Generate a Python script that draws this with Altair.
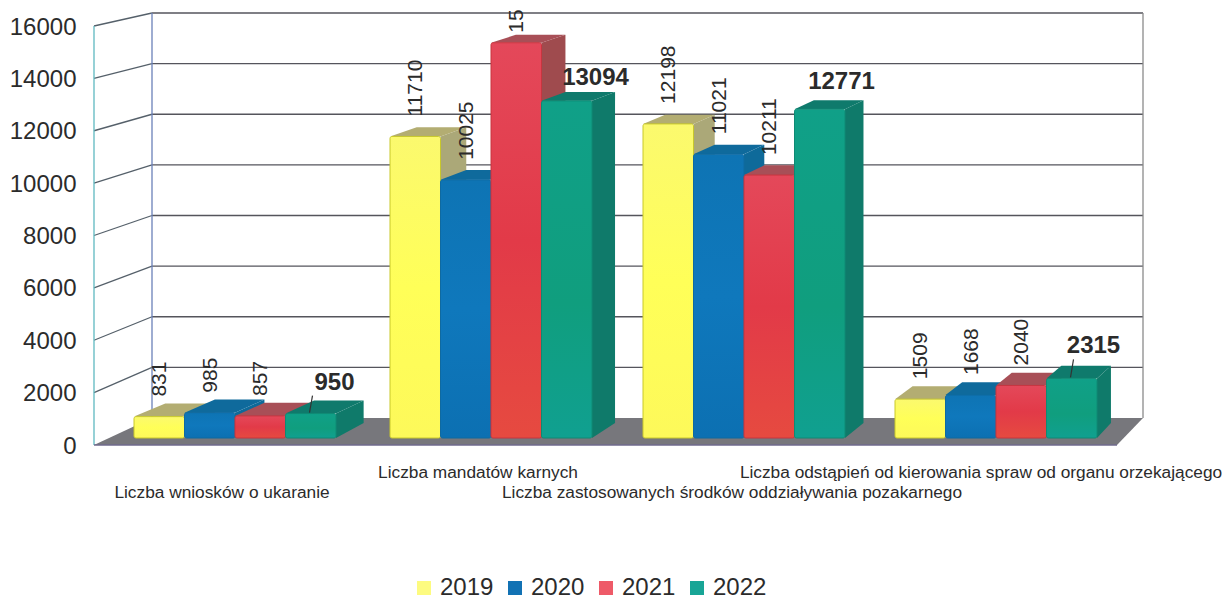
import altair as alt
import pandas as pd

categories = ["Liczba wniosków o ukaranie", "Liczba mandatów karnych",
              "Liczba zastosowanych środków oddziaływania pozakarnego",
              "Liczba odstąpień od kierowania spraw od organu orzekającego"]
years = ["2019", "2020", "2021", "2022"]
v2019 = [831, 11710, 12198, 1509]
v2020 = [985, 10025, 11021, 1668]
v2021 = [857, 15350, 10211, 2040]
v2022 = [950, 13094, 12771, 2315]
labels2021 = ["857", "15", "10211", "2040"]
y_ticks = [0, 2000, 4000, 6000, 8000, 10000, 12000, 14000, 16000]

FONT = "Liberation Sans"
TXT = "#2b2b2b"
PER_PX = 16000 / 419


def val(py):
    return (445 - py) * PER_PX


def back_val(v):
    return val(418 - v * 405 / 16000)


def front_val(v):
    return val(438 - v * 0.02575)


def px(v):
    return 445 - v / PER_PX


group_x = [134, 390, 643, 895]
step = 50.5
values = [v2019, v2020, v2021, v2022]
xs = alt.Scale(domain=[94, 1222], range=[0, 1128], nice=False, zero=False)
ys = alt.Scale(domain=[val(599), val(8)], nice=False, zero=False)
yax = alt.Axis(values=y_ticks, title=None, domain=False, ticks=False, grid=False, labelFontSize=24,
               labelPadding=18, labelFont=FONT, labelColor=TXT, format="d", labelOffset=1)
X = alt.X("x:Q", scale=xs, axis=None)
Y = alt.Y("y:Q", scale=ys, axis=yax, stack=False)


def dxf(x):
    return 32 - 0.018 * (x - 94)


def dyf(v):
    return 13.5 - 5.5 * v / 15200


def rules(rows, color, width=1.3):
    return alt.Chart(pd.DataFrame(rows)).mark_rule(color=color, strokeWidth=width).encode(
        x=X, x2="x2:Q", y=Y, y2="y2:Q")


layers = []

# floor
fl = [(94, 445, 445), (152, 418, 445), (1117, 418, 445), (1143, 418, 418)]
layers.append(alt.Chart(pd.DataFrame([{"x": a, "y": val(b), "y2": val(c)} for a, b, c in fl]))
              .mark_area(color="#77777c").encode(x=X, y=Y, y2="y2:Q"))

# walls, grid
grid_back = [{"x": 152, "x2": 1143, "y": back_val(t), "y2": back_val(t)} for t in y_ticks[1:]]
grid_side = [{"x": 94, "x2": 152, "y": val(445 - t / 16000 * 419), "y2": back_val(t)} for t in y_ticks[1:]]
layers.append(rules(grid_back, "#55555c"))
layers.append(rules(grid_side, "#55606a"))
layers.append(rules([{"x": 152, "x2": 152, "y": back_val(0), "y2": back_val(16000)}], "#6a80b8"))
layers.append(rules([{"x": 1143, "x2": 1143, "y": back_val(0), "y2": back_val(16000)}], "#8a8a8a"))
layers.append(rules([{"x": 94, "x2": 94, "y": val(445), "y2": val(26)}], "#5fb8c0"))
layers.append(rules([{"x": 94, "x2": 1117, "y": val(445), "y2": val(445)}], "#6f6a8c", 1.6))

styles = [
    dict(top="#b3ad72", side="#aba878", stroke="#c8c82a",
         stops=[("#fbf96e", 0), ("#ffff58", .5), ("#fdf95a", 1)]),
    dict(top="#0f6a9c", side="#0e6a9a", stroke="#0f6aa0",
         stops=[("#0e74b4", 0), ("#0f78bc", .5), ("#0c70b2", 1)]),
    dict(top="#a84f57", side="#9f4b4e", stroke="#c8353f",
         stops=[("#e4485a", 0), ("#e23a48", .5), ("#e64a40", 1)]),
    dict(top="#0f7a6c", side="#0f7a6a", stroke="#0e8a74",
         stops=[("#10a088", 0), ("#109e7e", .6), ("#10a090", 1)]),
]

for s, st in enumerate(styles):
    side, top, front = [], [], []
    for g, gx in enumerate(group_x):
        v = values[s][g]
        xl = gx + s * step
        xr = xl + step
        yf = front_val(v)
        yb = val(px(yf) - dyf(v))
        y0 = val(438)
        y0b = val(423)
        side += [{"x": xr, "y": yf, "y2": y0, "g": g},
                 {"x": xr + dxf(xr), "y": yb, "y2": y0b, "g": g}]
        top += [{"x": xl, "y": yf, "y2": yf, "g": g},
                {"x": xl + dxf(xl), "y": yb, "y2": yf, "g": g},
                {"x": xr, "y": yb, "y2": yf, "g": g},
                {"x": xr + dxf(xr), "y": yb, "y2": yb, "g": g}]
        front.append({"x": xl, "x2": xr, "y": yf, "y2": y0})
    layers.append(alt.Chart(pd.DataFrame(side)).mark_area(color=st["side"]).encode(
        x=X, y=Y, y2="y2:Q", detail="g:N"))
    layers.append(alt.Chart(pd.DataFrame(top)).mark_area(color=st["top"]).encode(
        x=X, y=Y, y2="y2:Q", detail="g:N"))
    fill = alt.Gradient(gradient="linear", x1=0, x2=0, y1=0, y2=1,
                        stops=[alt.GradientStop(color=c, offset=o) for c, o in st["stops"]])
    layers.append(alt.Chart(pd.DataFrame(front)).mark_rect(
        fill=fill, stroke=st["stroke"], strokeWidth=1, cornerRadius=2).encode(
        x=X, x2="x2:Q", y=Y, y2="y2:Q"))

# rotated value labels
rot = []
for s in range(3):
    for g, gx in enumerate(group_x):
        v = values[s][g]
        lab = labels2021[g] if s == 2 else str(v)
        gap = 10 if lab == "15" else 20
        rot.append({"x": gx + s * step + 26, "y": val(px(front_val(v)) - gap), "t": lab})
layers.append(alt.Chart(pd.DataFrame(rot)).mark_text(
    angle=270, align="left", baseline="middle", font=FONT, fontSize=21, color=TXT).encode(
    x=X, y=Y, text="t:N"))

# 2022 labels, with the leaders of the two lifted ones
lift = [31, 23, 27, 32]
xshift = [49, 54, 47, 47]
hor = []
lead = []
for g, gx in enumerate(group_x):
    xl = gx + 3 * step
    ft = px(front_val(v2022[g]))
    hor.append({"x": xl + xshift[g], "y": val(ft - lift[g]), "t": str(v2022[g])})
    if lift[g] > 30:
        lead.append({"x": xl + 27, "x2": xl + 24, "y": val(ft - lift[g] + 13), "y2": val(ft - 1)})
layers.append(rules(lead, "#333333", 1.2))
layers.append(alt.Chart(pd.DataFrame(hor)).mark_text(
    align="center", baseline="middle", font=FONT, fontSize=24, fontWeight="bold", color=TXT).encode(
    x=X, y=Y, text="t:N"))

# category labels
cat_y = [493, 473, 493, 473]
cat_x = [222, 478, 732, 981]
layers.append(alt.Chart(pd.DataFrame({"x": cat_x, "y": [val(p) for p in cat_y], "t": categories}))
              .mark_text(align="center", baseline="middle", font=FONT, fontSize=17.3, color=TXT)
              .encode(x=X, y=Y, text="t:N"))

# legend
layers.append(alt.Chart(pd.DataFrame({"x": [600] * 4, "y": [val(588)] * 4, "s": years})).mark_square(opacity=0, size=196).encode(
    x=X, y=Y,
    color=alt.Color("s:N", scale=alt.Scale(domain=years, range=["#fdfb80", "#1272b4", "#ee5a68", "#18a596"]),
                    legend=alt.Legend(orient="none", legendX=318, legendY=568, direction="horizontal",
                                      columns=4, title=None, symbolType="square", symbolSize=196,
                                      symbolOpacity=1, labelFontSize=24, labelFont=FONT, labelColor=TXT,
                                      labelOffset=4, columnPadding=9, symbolStrokeWidth=0))))

chart = alt.layer(*layers).properties(
    width=1128, height=591,
    padding={"left": 86, "top": 0, "right": 0, "bottom": 0},
    autosize=alt.AutoSizeParams(type="none"),
    background="white",
).configure_view(stroke=None)

chart.save("out.html", embed_options={"renderer": "svg", "actions": False})
